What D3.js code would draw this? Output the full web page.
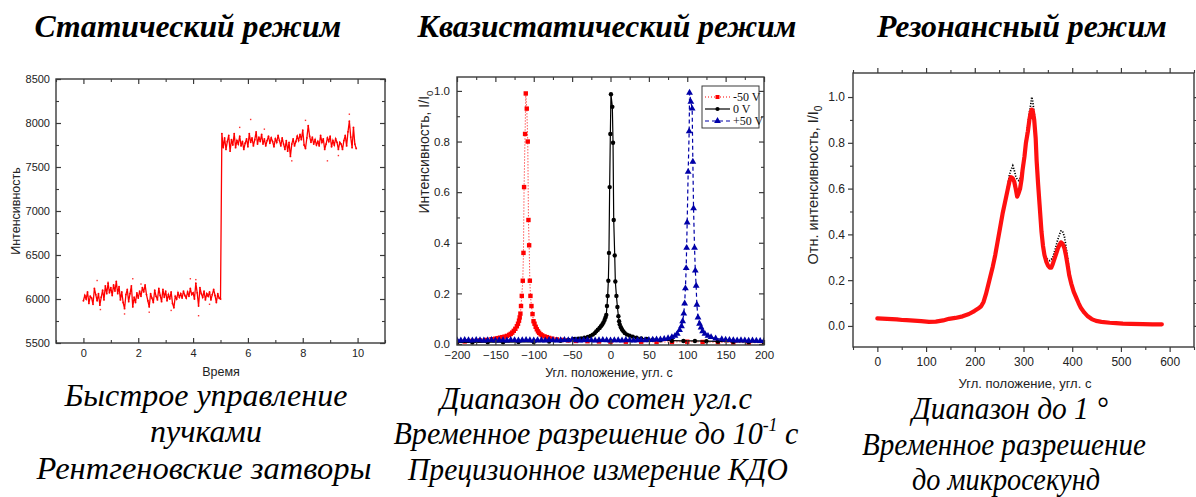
<!DOCTYPE html>
<html><head><meta charset="utf-8">
<script src="https://cdn.jsdelivr.net/npm/d3@7"></script>
<style>body{margin:0;background:#fff} svg{display:block}</style>
</head><body><svg id="c" width="1196" height="497"></svg>
<script>
// ---------- Panel 1: static mode (time, intensity) ----------
const p1Time = [0,0.05,0.1,0.15,0.2,0.25,0.3,0.35,0.4,0.45,0.5,0.55,0.6,0.65,0.7,0.75,0.8,0.85,0.9,0.95,
1,1.05,1.1,1.15,1.2,1.25,1.3,1.35,1.4,1.45,1.5,1.55,1.6,1.65,1.7,1.75,1.8,1.85,1.9,1.95,
2,2.05,2.1,2.15,2.2,2.25,2.3,2.35,2.4,2.45,2.5,2.55,2.6,2.65,2.7,2.75,2.8,2.85,2.9,2.95,
3,3.05,3.1,3.15,3.2,3.25,3.3,3.35,3.4,3.45,3.5,3.55,3.6,3.65,3.7,3.75,3.8,3.85,3.9,3.95,
4,4.05,4.1,4.15,4.2,4.25,4.3,4.35,4.4,4.45,4.5,4.55,4.6,4.65,4.7,4.75,4.8,4.85,4.9,4.95,5,
5.05,5.1,5.15,5.2,5.25,5.3,5.35,5.4,5.45,5.5,5.55,5.6,5.65,5.7,5.75,5.8,5.85,5.9,5.95,
6,6.05,6.1,6.15,6.2,6.25,6.3,6.35,6.4,6.45,6.5,6.55,6.6,6.65,6.7,6.75,6.8,6.85,6.9,6.95,
7,7.05,7.1,7.15,7.2,7.25,7.3,7.35,7.4,7.45,7.5,7.55,7.6,7.65,7.7,7.75,7.8,7.85,7.9,7.95,
8,8.05,8.1,8.15,8.2,8.25,8.3,8.35,8.4,8.45,8.5,8.55,8.6,8.65,8.7,8.75,8.8,8.85,8.9,8.95,
9,9.05,9.1,9.15,9.2,9.25,9.3,9.35,9.4,9.45,9.5,9.55,9.6,9.65,9.7,9.75,9.8,9.85,9.9,9.95];
const p1Intensity = [5980,6040,6000,6080,5950,6030,6010,5940,6120,6050,5980,6060,5930,6020,6100,5990,6150,6060,6180,6070,
6130,6040,6160,6090,6200,6060,6140,5990,6080,5960,5890,6050,6110,5970,6060,6150,5910,6020,5960,6070,
6010,6090,6030,6130,6080,6160,6050,5980,5910,6060,6010,5960,6100,6030,5990,6120,6040,5970,6110,6020,
6090,5980,6050,6000,6080,5950,5900,6030,6000,6070,6020,6060,6010,6090,6040,6010,6080,6030,6120,6050,
6070,6000,6180,6070,5920,6130,6060,6020,6090,5990,6060,6030,6080,5990,6050,6110,6040,5960,6060,6010,6000,
7880,7720,7830,7700,7790,7860,7680,7810,7750,7880,7720,7800,7760,7850,7740,7790,7700,7770,7820,
7730,7880,7780,7830,7740,7810,7900,7760,7840,7790,7870,7760,7820,7740,7800,7850,7770,7830,7790,7730,
7820,7780,7860,7800,7740,7830,7760,7700,7800,7680,7780,7620,7760,7820,7740,7790,7850,7800,7870,7810,
7920,7750,7710,7830,7970,7850,7780,7840,7760,7810,7750,7790,7740,7860,7780,7820,7700,7760,7830,7790,
7850,7730,7800,7750,7820,7780,7700,7780,7760,7700,7800,7860,7740,7900,8020,7840,7720,7950,7760,7710];
const p1OutlierTime = [0.5,0.62,0.9,1.5,1.8,2.1,2.4,3.2,3.9,4.1,4.2,6.1,5.7,7.6,8.1,8.9,9.7,9.3,6.6,4.6];
const p1OutlierInt  = [6210,5880,6190,5830,6230,6170,5850,5870,6230,6220,5810,8040,7950,7570,8030,7570,8100,7630,7930,5940];
const p1XTicks = [0,2,4,6,8,10];
const p1YTicks = [5500,6000,6500,7000,7500,8000,8500];

// ---------- Panel 2: quasi-static mode ----------
const p2Series = ["-50 V", "0 V", "+50 V"];
const p2RedX = [-200,-190,-180,-170,-162,-155,-150,-147,-144,-141,-138,-135,-132,-130,-128,-126,-124,-122,-120.5,-119.2,-118.3,-117.4,-116.6,-115.6,-114.3,-113.4,-112.6,-111.3,-110.4,-109.1,-107.8,-106.9,-106,-105.1,-104.3,-103,-101.6,-100.3,-99,-97.5,-96,-94.5,-93,-91,-89,-86,-83,-80,-76,-70,-62,-55,-45,-30,-15,0,20,40,60,80,100,120,140,160,180,200];
const p2RedY = [0.008,0.010,0.012,0.014,0.016,0.019,0.021,0.023,0.025,0.027,0.029,0.032,0.036,0.040,0.045,0.052,0.060,0.070,0.080,0.092,0.105,0.120,0.150,0.190,0.250,0.360,0.620,0.830,0.990,0.930,0.800,0.490,0.390,0.250,0.190,0.150,0.118,0.090,0.080,0.068,0.058,0.050,0.044,0.038,0.034,0.030,0.027,0.024,0.021,0.018,0.016,0.014,0.012,0.011,0.010,0.009,0.009,0.009,0.008,0.008,0.009,0.008,0.007,0.006,0.005,0.005];
const p2BlackX = [-200,-180,-160,-140,-120,-100,-80,-65,-55,-47,-42,-38.3,-34,-29.5,-26,-23,-20.5,-18.6,-16.5,-14.2,-12.5,-10.7,-9.2,-7.7,-6.5,-5.5,-4.6,-3.7,-2.8,-2,-1.1,-0.2,0.6,2.4,3.3,4.2,5.5,6.3,7.7,9,10.3,11.2,12,13.5,15,16.8,18.6,21.5,25,29,34,40,47,55,65,80,95,110,125,140,160,180,200];
const p2BlackY = [0.006,0.006,0.007,0.007,0.008,0.008,0.010,0.013,0.016,0.020,0.021,0.022,0.025,0.028,0.032,0.037,0.043,0.050,0.056,0.063,0.070,0.077,0.085,0.095,0.105,0.115,0.150,0.190,0.250,0.360,0.620,0.830,0.987,0.937,0.795,0.490,0.350,0.247,0.190,0.146,0.110,0.090,0.077,0.066,0.057,0.050,0.043,0.037,0.033,0.029,0.025,0.022,0.020,0.017,0.015,0.013,0.012,0.012,0.011,0.010,0.009,0.008,0.007];
const p2BlueX = [-200,-195,-190,-185,-180,-175,-170,-165,-160,-155,-150,-145,-140,-135,-130,-125,-120,-115,-110,-105,-100,-95,-90,-85,-80,-75,-70,-65,-60,-55,-50,-45,-40,-35,-30,-25,-20,-15,-10,-5,0,5,10,15,20,25,30,35,40,45,50,55,60,65,70,75,80,84,87,90,92.5,94,95.5,96.6,97.6,98.6,99.2,99.9,101.2,102.5,103,104.7,106.4,107.3,108.2,109.5,110.5,111.6,112.5,114,116,118,120,123,127,131,137,145,150,155,160,165,170,175,180,185,190,195,200];
const p2BlueY = [0.015,0.014,0.016,0.015,0.014,0.016,0.015,0.014,0.015,0.016,0.014,0.015,0.015,0.014,0.016,0.015,0.014,0.015,0.016,0.015,0.014,0.015,0.015,0.014,0.016,0.015,0.014,0.015,0.016,0.015,0.017,0.015,0.014,0.015,0.016,0.015,0.014,0.015,0.016,0.015,0.014,0.015,0.015,0.014,0.016,0.015,0.014,0.015,0.016,0.015,0.016,0.017,0.018,0.018,0.020,0.023,0.027,0.032,0.040,0.055,0.070,0.090,0.120,0.160,0.220,0.300,0.380,0.480,0.680,0.840,0.993,0.957,0.930,0.720,0.536,0.380,0.290,0.230,0.155,0.105,0.080,0.065,0.050,0.040,0.032,0.027,0.022,0.019,0.017,0.016,0.015,0.014,0.015,0.014,0.013,0.014,0.013,0.012,0.012];
const p2XTicks = [-200,-150,-100,-50,0,50,100,150,200];
const p2YTicks = [0,0.2,0.4,0.6,0.8,1.0];

// ---------- Panel 3: resonance mode ----------
const p3X = [0,10,20,30,40,51,60,75,90,106,120,135,147,160,175,188,199,207,213,218,223,230,237,242,247,252,257,262,267,271,274,278,281,284,287,290,293,296,298,302,305,309,312,315,317,319,322,325,327,330,333,337,340,343,347,350,354,357,360,363,367,370,374,377,380,384,387,391,394,398,403,408,413,418,425,432,440,449,460,477,490,504,520,545,565,584];
const p3Red = [0.033,0.032,0.031,0.030,0.029,0.026,0.025,0.023,0.021,0.018,0.019,0.024,0.031,0.035,0.042,0.052,0.065,0.076,0.086,0.105,0.140,0.200,0.260,0.310,0.370,0.430,0.490,0.540,0.590,0.630,0.650,0.645,0.630,0.600,0.565,0.580,0.600,0.640,0.680,0.740,0.800,0.850,0.900,0.935,0.945,0.940,0.900,0.820,0.720,0.620,0.530,0.410,0.350,0.310,0.280,0.265,0.255,0.255,0.270,0.290,0.315,0.335,0.355,0.365,0.360,0.340,0.310,0.260,0.220,0.185,0.150,0.125,0.100,0.078,0.058,0.042,0.030,0.022,0.018,0.014,0.012,0.010,0.009,0.008,0.007,0.007];
const p3Black = [0.033,0.032,0.031,0.030,0.029,0.026,0.025,0.023,0.021,0.018,0.019,0.024,0.031,0.035,0.042,0.052,0.065,0.076,0.086,0.105,0.140,0.200,0.260,0.310,0.370,0.430,0.490,0.545,0.600,0.660,0.680,0.700,0.680,0.655,0.640,0.635,0.645,0.670,0.700,0.760,0.820,0.880,0.930,0.970,1.000,0.980,0.930,0.840,0.740,0.640,0.550,0.430,0.360,0.320,0.295,0.290,0.285,0.290,0.300,0.320,0.350,0.375,0.400,0.415,0.415,0.390,0.350,0.290,0.240,0.190,0.155,0.125,0.100,0.078,0.058,0.042,0.030,0.022,0.018,0.014,0.012,0.010,0.009,0.008,0.007,0.007];
const p3XTicks = [0,100,200,300,400,500,600];
const p3YTicks = [0,0.2,0.4,0.6,0.8,1.0];

// ---------- Texts ----------
const titles = ["Статический режим", "Квазистатический режим", "Резонансный режим"];
const captions = [
  [["Быстрое управление"], ["пучками"], ["Рентгеновские затворы"]],
  [["Диапазон до сотен угл.с"], ["Временное разрешение до 10", "-1", " с"], ["Прецизионное измерение КДО"]],
  [["Диапазон до 1 °"], ["Временное разрешение"], ["до микросекунд"]]
];

// =================== drawing ===================
const svg = d3.select("#c");
svg.append("rect").attr("width",1196).attr("height",497).attr("fill","#fff");
const FRAME = "#3a3a3a";
const SERIF = "'Liberation Serif', 'Times New Roman', serif";
const SANS = "'Liberation Sans', Arial, sans-serif";

function axes(g, x, y, o){
  const dir = o.dir; // 1 inward, -1 outward
  const Lmaj = 5, Lmin = 3;
  const [x0,x1] = x.range(), [y0,y1] = y.range();
  const mk = (axisFn, scale, vals, len, fmt, pad) =>
    axisFn(scale).tickValues(vals).tickSize(dir>0 ? -len : len).tickSizeOuter(0).tickPadding(pad).tickFormat(fmt);
  const place = [
    [d3.axisBottom, x, `translate(0,${y0})`, true, o.xMaj, o.xMin, o.xFmt],
    [d3.axisTop,    x, `translate(0,${y1})`, false, o.xMaj, o.xMin, o.xFmt],
    [d3.axisLeft,   y, `translate(${x0},0)`, true, o.yMaj, o.yMin, o.yFmt],
    [d3.axisRight,  y, `translate(${x1},0)`, false, o.yMaj, o.yMin, o.yFmt]
  ];
  place.forEach(([fn, sc, tr, lab, maj, mi, fmt], i) => {
    const isX = i < 2;
    const ga = g.append("g").attr("transform", tr)
      .call(mk(fn, sc, maj, Lmaj, lab ? fmt : () => "", isX ? o.xPad : o.yPad));
    ga.select(".domain").remove();
    ga.selectAll("line").attr("stroke", FRAME).attr("stroke-width", 1.2);
    ga.selectAll("text").attr("font-family", SANS).attr("font-size", o.fs).attr("fill","#222");
    const gm = g.append("g").attr("transform", tr).call(mk(fn, sc, mi, Lmin, () => "", 0));
    gm.select(".domain").remove();
    gm.selectAll("line").attr("stroke", FRAME).attr("stroke-width", 1.1);
  });
  g.append("rect").attr("x", x0).attr("y", y1).attr("width", x1-x0).attr("height", y0-y1)
    .attr("fill","none").attr("stroke", FRAME).attr("stroke-width", 1.4);
}

function yTitle(g, cx, cy, main, sub, fs){
  const t = g.append("text").attr("transform", `translate(${cx},${cy}) rotate(-90)`)
    .attr("text-anchor","middle").attr("font-family", SANS)
    .attr("font-size", fs).attr("fill","#222");
  t.append("tspan").text(main);
  if (sub) t.append("tspan").attr("font-size", fs*0.7).attr("dy", fs*0.3).text(sub);
}
function xTitle(g, cx, cy, s, fs){
  g.append("text").attr("x",cx).attr("y",cy).attr("text-anchor","middle")
    .attr("font-family", SANS).attr("font-size",fs).attr("fill","#222").text(s);
}

// ---- Panel 1 ----
{
  const g = svg.append("g");
  const x = d3.scaleLinear().domain([-1, 11]).range([56, 385]);
  const y = d3.scaleLinear().domain([5500, 8500]).range([343, 79]);
  const pts = p1Time.map((t,i)=>[t, p1Intensity[i]]);
  g.append("path").datum(pts).attr("fill","none").attr("stroke","#ff0000").attr("stroke-width",1.3)
    .attr("d", d3.line().x(d=>x(d[0])).y(d=>y(d[1])));
  g.selectAll(".p1d").data(pts).join("circle").attr("cx",d=>x(d[0])).attr("cy",d=>y(d[1])).attr("r",0.9).attr("fill","#ff0000");
  g.selectAll(".p1o").data(p1OutlierTime.map((t,i)=>[t,p1OutlierInt[i]])).join("rect")
    .attr("x",d=>x(d[0])-0.7).attr("y",d=>y(d[1])-0.7).attr("width",1.4).attr("height",1.4).attr("fill","#ff3030");
  axes(g, x, y, {dir:1, xMaj:p1XTicks, xMin:[-1,1,3,5,7,9,11], yMaj:p1YTicks, yMin:[5750,6250,6750,7250,7750,8250],
     xFmt:d3.format("d"), yFmt:d3.format("d"), fs:11, xPad:6, yPad:6});
  yTitle(g, 20, 211, "Интенсивность", null, 12.5);
  xTitle(g, 221, 376, "Время", 12.5);
}

// ---- Panel 2 ----
{
  const g = svg.append("g");
  const x = d3.scaleLinear().domain([-200, 200]).range([457, 764]);
  const y = d3.scaleLinear().domain([-0.004, 1.055]).range([345, 77]);
  g.append("clipPath").attr("id", "clip2").append("rect").attr("x",457).attr("y",77).attr("width",307).attr("height",268);
  const pg = g.append("g").attr("clip-path", "url(#clip2)");
  const line = d3.line().x(d=>x(d[0])).y(d=>y(d[1]));
  const red = p2RedX.map((v,i)=>[v,p2RedY[i]]);
  const blk = p2BlackX.map((v,i)=>[v,p2BlackY[i]]);
  const blu = p2BlueX.map((v,i)=>[v,p2BlueY[i]]);
  pg.append("path").datum(red).attr("fill","none").attr("stroke","#ff0000").attr("stroke-width",1).attr("stroke-dasharray","1,2").attr("d",line);
  pg.selectAll(".r").data(red).join("rect").attr("x",d=>x(d[0])-2.2).attr("y",d=>y(d[1])-2.2).attr("width",4.4).attr("height",4.4).attr("fill","#ff0000");
  pg.append("path").datum(blk).attr("fill","none").attr("stroke","#000").attr("stroke-width",1.2).attr("d",line);
  pg.selectAll(".b").data(blk).join("circle").attr("cx",d=>x(d[0])).attr("cy",d=>y(d[1])).attr("r",2.2).attr("fill","#000");
  pg.append("path").datum(blu).attr("fill","none").attr("stroke","#0000a8").attr("stroke-width",1.2).attr("stroke-dasharray","4,3").attr("d",line);
  const tri = d3.symbol().type(d3.symbolTriangle).size(20);
  pg.selectAll(".t").data(blu).join("path").attr("transform",d=>`translate(${x(d[0])},${y(d[1])})`).attr("d",tri).attr("fill","#0000a8");
  axes(g, x, y, {dir:1, xMaj:p2XTicks, xMin:[-175,-125,-75,-25,25,75,125,175], yMaj:p2YTicks, yMin:[0.1,0.3,0.5,0.7,0.9],
     xFmt:d3.format("d"), yFmt:d3.format(".1f"), fs:11.5, xPad:6, yPad:7});
  yTitle(g, 429, 152, "Интенсивность, I/I", "0", 14);
  xTitle(g, 609, 377, "Угл. положение, угл. с", 12.5);
  // legend
  const lg = g.append("g");
  lg.append("rect").attr("x",702).attr("y",86).attr("width",57).attr("height",42).attr("fill","#fff").attr("stroke",FRAME).attr("stroke-width",1);
  const ly = [97,109,121];
  const styles = [{c:"#ff0000",dash:"1,2"},{c:"#000",dash:null},{c:"#0000a8",dash:"4,3"}];
  p2Series.forEach((s,i)=>{
    const l = lg.append("line").attr("x1",705).attr("x2",730).attr("y1",ly[i]).attr("y2",ly[i]).attr("stroke",styles[i].c).attr("stroke-width",1.2);
    if (styles[i].dash) l.attr("stroke-dasharray",styles[i].dash);
    if (i===0) lg.append("rect").attr("x",715.5).attr("y",ly[i]-2).attr("width",4).attr("height",4).attr("fill",styles[i].c);
    if (i===1) lg.append("circle").attr("cx",717.5).attr("cy",ly[i]).attr("r",2.1).attr("fill",styles[i].c);
    if (i===2) lg.append("path").attr("transform",`translate(717.5,${ly[i]})`).attr("d",tri).attr("fill",styles[i].c);
    lg.append("text").attr("x",733).attr("y",ly[i]+4).attr("font-family",SERIF).attr("font-size",12).attr("fill","#111").text(s);
  });
}

// ---- Panel 3 ----
{
  const g = svg.append("g");
  const x = d3.scaleLinear().domain([-50, 650]).range([853, 1194]);
  const y = d3.scaleLinear().domain([-0.092, 1.105]).range([347, 73]);
  const line = d3.line().x(d=>x(d[0])).y(d=>y(d[1]));
  const blk = p3X.map((v,i)=>[v,p3Black[i]]);
  const red = p3X.map((v,i)=>[v,p3Red[i]]);
  g.append("path").datum(blk).attr("fill","none").attr("stroke","#000").attr("stroke-width",1.7).attr("stroke-dasharray","1.2,1.5").attr("d",line);
  g.append("path").datum(red).attr("fill","none").attr("stroke","#ff1010").attr("stroke-width",4.2).attr("stroke-linejoin","round").attr("stroke-linecap","round").attr("d",line);
  axes(g, x, y, {dir:-1, xMaj:p3XTicks, xMin:[-50,50,150,250,350,450,550,650], yMaj:p3YTicks, yMin:[0.1,0.3,0.5,0.7,0.9],
     xFmt:d3.format("d"), yFmt:d3.format(".1f"), fs:12, xPad:5, yPad:3});
  yTitle(g, 818, 185, "Отн. интенсивность, I/I", "0", 14.5);
  xTitle(g, 1025, 388, "Угл. положение, угл. с", 13);
}

// ---- Titles ----
const titleCx = [188, 607, 1022], titleW = [307, 379, 290], titleY = 37;
titles.forEach((s,i)=>{
  const t = svg.append("text").attr("font-family", SERIF)
    .attr("font-weight","bold").attr("font-style","italic").attr("font-size",30).attr("fill","#000")
    .attr("text-anchor","start").text(s);
  const w = t.node().getComputedTextLength();
  const k = titleW[i]/w;
  t.attr("font-size", 30*k).attr("x", titleCx[i] - titleW[i]/2).attr("y", titleY);
});

// ---- Captions (Times-like italic, condensed to the reference widths) ----
const capCx = [[206,206,204],[596,596,598],[1010,1004,1006]];
const capW  = [[283,112,335],[312,405,380],[196,284,188]];
const capY  = [[406,442,479],[409,444,480],[419,455,490]];
captions.forEach((lines,i)=>{
  lines.forEach((parts,j)=>{
    const t = svg.append("text").attr("font-family", SERIF)
      .attr("font-style","italic").attr("font-weight","normal").attr("font-size",32).attr("fill","#000");
    parts.forEach((p,k)=>{
      const ts = t.append("tspan").text(p);
      if (k===1) ts.attr("font-size",19).attr("dy",-13);
      if (k===2) ts.attr("dy",13);
    });
    const w = t.node().getComputedTextLength();
    const s = capW[i][j]/w;
    t.attr("transform", `translate(${capCx[i][j]-capW[i][j]/2},${capY[i][j]}) scale(${s},1)`);
  });
});
</script></body></html>
